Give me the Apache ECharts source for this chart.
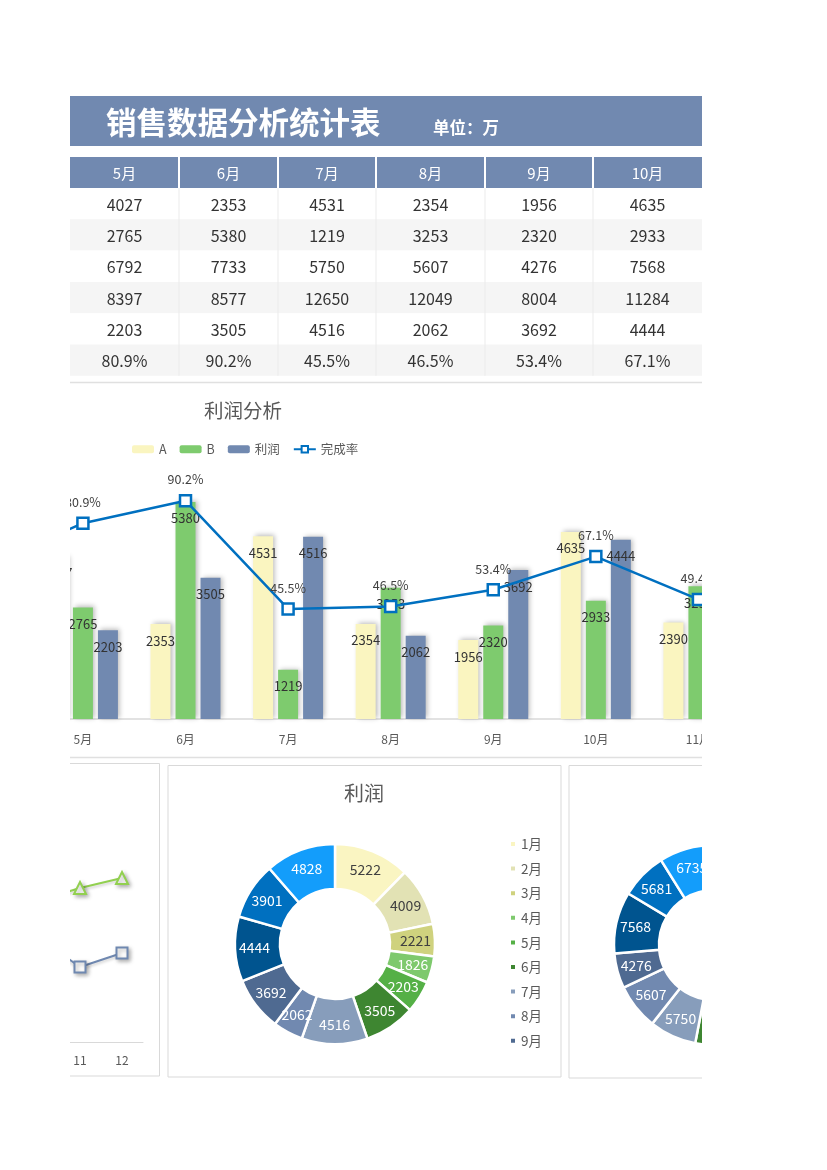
<!DOCTYPE html>
<html><head><meta charset="utf-8">
<script src="https://cdn.jsdelivr.net/npm/echarts@6/dist/echarts.min.js"></script>
<style>
html,body{margin:0;padding:0;background:#fff;width:827px;height:1170px;overflow:hidden}
#clip{position:absolute;left:70px;top:0;width:632px;height:1170px;overflow:hidden}
#chart{position:absolute;left:-670px;top:0;width:1500px;height:1170px}
</style></head><body>
<div id="clip"><div id="chart"></div></div>
<script>
// ---------- data ----------
const months = ['1月','2月','3月','4月','5月','6月','7月','8月','9月','10月','11月','12月'];
const monthNums = ['1','2','3','4','5','6','7','8','9','10','11','12'];
const seriesA = [3812, 3420, 2960, 3105, 4027, 2353, 4531, 2354, 1956, 4635, 2390, 3412];
const seriesB = [3624, 3450, 2720, 2567, 2765, 5380, 1219, 3253, 2320, 2933, 3291, 3323];
const salesTotal = [7436, 6870, 5680, 5672, 6792, 7733, 5750, 5607, 4276, 7568, 5681, 6735];
const target = [10257, 10059, 9776, 9148, 8397, 8577, 12650, 12049, 8004, 11284, 11500, 11493];
const profit = [5222, 4009, 2221, 1826, 2203, 3505, 4516, 2062, 3692, 4444, 3901, 4828];
const rate = [72.5, 68.3, 58.1, 62.0, 80.9, 90.2, 45.5, 46.5, 53.4, 67.1, 49.4, 58.6];
const trendUpper = [60, 64, 58, 66, 70, 74, 68, 72, 69, 70.6, 77, 82];
const trendLower = [40, 45, 38, 42, 48, 50, 44, 47, 46, 52.3, 37.5, 44.5];
const tableMonthIdx = [4, 5, 6, 7, 8, 9];
const monthColors = ['#faf5c2','#e2e2b4','#cfd27e','#7ec96d','#55b046','#3e8631','#879dbb','#7189b0','#4f6a91','#00548f','#0070c0','#139dfb'];
const darkLabelCount = 3;

// ---------- layout ----------
const OX = 600; // page x -> chart x
const X = v => v + OX;
const FONT = '"Noto Sans CJK SC","Noto Sans",sans-serif';
const colEdges = [70, 179, 278, 376, 485, 593, 702];
const headerTop = 157, headerH = 31, rowTop = 188, rowH = 31.3;
const HEAD_BLUE = '#7189b0';

function txt(text, x, y, size, color, weight, align) {
  return { type: 'text', silent: true, z: 10,
    style: { text: String(text), x: x, y: y, fill: color, fontSize: size, fontFamily: FONT,
      fontWeight: weight || 'normal', align: align || 'center', verticalAlign: 'middle',
      textAlign: align || 'center', textVerticalAlign: 'middle' } };
}
function rect(x, y, w, h, fill, stroke, lw) {
  return { type: 'rect', silent: true, z: 1, shape: { x: x, y: y, width: w, height: h },
    style: { fill: fill || 'none', stroke: stroke || 'none', lineWidth: lw || 0 } };
}
function vline(x, y1, y2, color, lw) {
  return { type: 'line', silent: true, z: 5, shape: { x1: x, y1: y1, x2: x, y2: y2 },
    style: { stroke: color, lineWidth: lw } };
}

const graphics = [];
// title bar
graphics.push(rect(X(70), 96, 632, 50, HEAD_BLUE));
graphics.push(txt('销售数据分析统计表', X(106), 122, 30.5, '#ffffff', 'bold', 'left'));
graphics.push(txt('单位：万', X(433), 128, 16.5, '#ffffff', 'bold', 'left'));
// table
const tableRows = [seriesA, seriesB, salesTotal, target, profit, rate];
graphics.push(rect(X(70), headerTop, 632, headerH, HEAD_BLUE));
for (let r = 0; r < tableRows.length; r++) {
  graphics.push(rect(X(70), rowTop + r * rowH, 632, rowH, r % 2 ? '#f5f5f5' : '#ffffff'));
}
tableMonthIdx.forEach((mi, c) => {
  const cx = X((colEdges[c] + colEdges[c + 1]) / 2);
  graphics.push(txt(months[mi], cx, headerTop + headerH / 2 + 1, 15, '#ffffff'));
  tableRows.forEach((row, r) => {
    const v = row === rate ? row[mi].toFixed(1) + '%' : row[mi];
    graphics.push(txt(v, cx, rowTop + r * rowH + rowH / 2 + 1, 16, '#333333'));
  });
});
for (let c = 1; c < colEdges.length - 1; c++) {
  graphics.push(vline(X(colEdges[c]), headerTop, headerTop + headerH, '#ffffff', 2));
  graphics.push(vline(X(colEdges[c]), rowTop, rowTop + rowH * 6, '#ebebeb', 1));
}
// chart area border
graphics.push(rect(X(60), 382.5, 660, 375, 'none', '#e0e0e0', 1.5));
graphics.push(txt('利润分析', X(243), 411, 19.5, '#595959'));
// bottom panels
graphics.push(rect(X(-400), 763.5, 559.5, 312.5, 'none', '#d9d9d9', 1));
graphics.push(rect(X(168), 765.5, 393, 311.5, 'none', '#d9d9d9', 1));
graphics.push(rect(X(569), 765.5, 400, 312.5, 'none', '#d9d9d9', 1));
graphics.push(txt('利润', X(364), 793, 20, '#595959'));

const barLabel = { show: true, position: 'insideTop', distance: 10, color: '#333333', fontSize: 13, fontFamily: FONT };
const barShadow = { shadowColor: 'rgba(0,0,0,0.28)', shadowBlur: 5, shadowOffsetX: 2, shadowOffsetY: -1 };
const markerShadow = { shadowColor: 'rgba(0,0,0,0.3)', shadowBlur: 4, shadowOffsetX: 2, shadowOffsetY: 2 };

function pieData(values) {
  return values.map((v, i) => ({
    name: months[i], value: v,
    itemStyle: { color: monthColors[i] },
    label: { color: i < darkLabelCount ? '#404040' : '#ffffff' }
  }));
}

const option = {
  animation: false,
  textStyle: { fontFamily: FONT },
  graphic: { elements: graphics },
  legend: [
    { data: ['A', 'B', '利润', '完成率'], left: X(127), top: 438, itemWidth: 22, itemHeight: 8, itemGap: 13,
      textStyle: { fontSize: 12.5, color: '#595959', fontFamily: FONT } },
    { data: months.slice(0, 9), orient: 'vertical', left: X(504), top: 831, icon: 'rect',
      itemWidth: 6, itemHeight: 6, itemGap: 8.6,
      textStyle: { fontSize: 13.5, color: '#595959', lineHeight: 16, fontFamily: FONT } }
  ],
  grid: [
    { left: X(-378.7), top: 477, width: 1231, height: 242, outerBoundsMode: 'none', containLabel: false },
    { left: X(-361), top: 842, width: 504, height: 200, outerBoundsMode: 'none', containLabel: false }
  ],
  xAxis: [
    { gridIndex: 0, type: 'category', data: months, axisLine: { lineStyle: { color: '#d9d9d9', width: 1.5 } },
      axisTick: { show: false }, axisLabel: { color: '#595959', fontSize: 12, margin: 14, fontFamily: FONT } },
    { gridIndex: 1, type: 'category', data: monthNums, axisLine: { lineStyle: { color: '#d9d9d9', width: 1 } },
      axisTick: { show: false }, axisLabel: { color: '#595959', fontSize: 12, margin: 12, fontFamily: FONT } }
  ],
  yAxis: [
    { gridIndex: 0, type: 'value', min: 0, max: 6000, show: false },
    { gridIndex: 0, type: 'value', min: 0, max: 100, show: false },
    { gridIndex: 1, type: 'value', min: 0, max: 100, show: false }
  ],
  series: [
    { name: 'A', type: 'bar', xAxisIndex: 0, yAxisIndex: 0, data: seriesA, barWidth: 20, barGap: '25%',
      itemStyle: Object.assign({ color: '#faf5c0' }, barShadow), label: barLabel },
    { name: 'B', type: 'bar', xAxisIndex: 0, yAxisIndex: 0, data: seriesB, barWidth: 20, barGap: '25%',
      itemStyle: Object.assign({ color: '#7ecb6e' }, barShadow), label: barLabel },
    { name: '利润', type: 'bar', xAxisIndex: 0, yAxisIndex: 0, data: profit, barWidth: 20, barGap: '25%',
      itemStyle: Object.assign({ color: '#7189b0' }, barShadow), label: barLabel },
    { name: '完成率', type: 'line', xAxisIndex: 0, yAxisIndex: 1, data: rate, z: 5,
      symbol: 'rect', symbolSize: 11, showAllSymbol: true,
      lineStyle: { color: '#0070c0', width: 2.5 },
      itemStyle: { color: '#ffffff', borderColor: '#0070c0', borderWidth: 2.5 },
      label: { show: true, position: 'top', distance: 8, color: '#404040', fontSize: 12.5, fontFamily: FONT,
        formatter: p => p.value.toFixed(1) + '%' } },
    { name: 'trendUpper', type: 'line', xAxisIndex: 1, yAxisIndex: 2, data: trendUpper,
      symbol: 'triangle', symbolSize: 12, showAllSymbol: true,
      lineStyle: { color: '#92d050', width: 2, shadowColor: 'rgba(0,0,0,0.2)', shadowBlur: 3, shadowOffsetY: 2 },
      itemStyle: Object.assign({ color: '#ffffff', borderColor: '#92d050', borderWidth: 2 }, markerShadow) },
    { name: 'trendLower', type: 'line', xAxisIndex: 1, yAxisIndex: 2, data: trendLower,
      symbol: 'rect', symbolSize: 11, showAllSymbol: true,
      lineStyle: { color: '#6f88b0', width: 2, shadowColor: 'rgba(0,0,0,0.2)', shadowBlur: 3, shadowOffsetY: 2 },
      itemStyle: Object.assign({ color: '#ffffff', borderColor: '#6f88b0', borderWidth: 2 }, markerShadow) },
    { name: '利润', type: 'pie', center: [X(335), 944], radius: [55, 100], startAngle: 90, clockwise: true,
      avoidLabelOverlap: false, data: pieData(profit),
      itemStyle: { borderColor: '#ffffff', borderWidth: 2.5 },
      label: { show: true, position: 'inside', formatter: '{c}', fontSize: 14, fontFamily: FONT },
      labelLine: { show: false }, emphasis: { disabled: true } },
    { name: '销售额', type: 'pie', center: [X(714), 945], radius: [55, 100], startAngle: 90, clockwise: true,
      avoidLabelOverlap: false, data: pieData(salesTotal),
      itemStyle: { borderColor: '#ffffff', borderWidth: 2.5 },
      label: { show: true, position: 'inside', formatter: '{c}', fontSize: 14, fontFamily: FONT },
      labelLine: { show: false }, emphasis: { disabled: true } }
  ]
};
const chart = echarts.init(document.getElementById('chart'));
chart.setOption(option);
</script>
</body></html>
